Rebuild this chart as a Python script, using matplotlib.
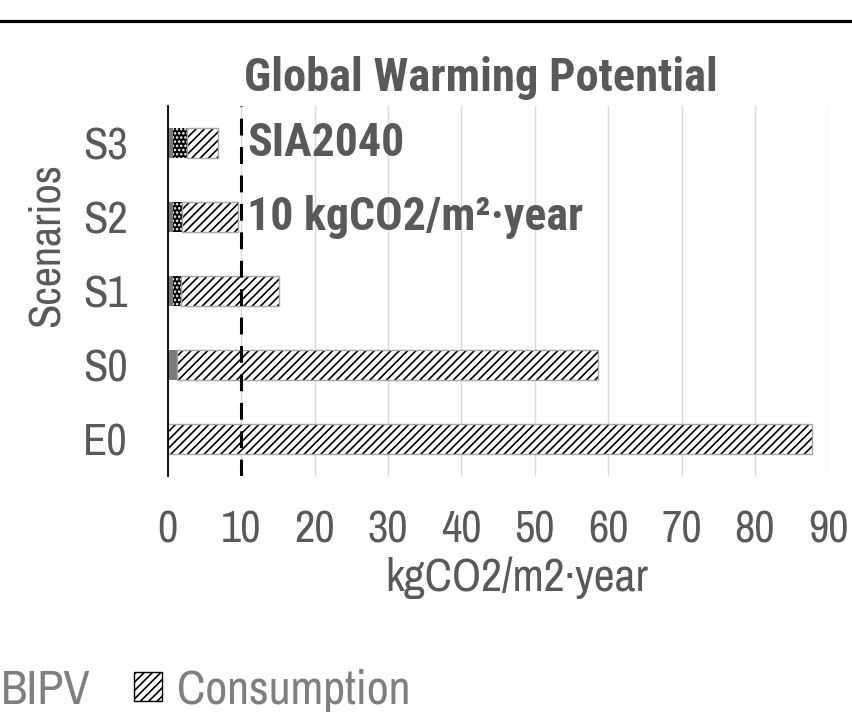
import matplotlib
matplotlib.use("Agg")
import matplotlib.pyplot as plt
from matplotlib.patches import Patch
from matplotlib.lines import Line2D
import numpy as np

plt.rcParams['font.family'] = ['Archivo Narrow', 'Roboto Condensed', 'Liberation Sans', 'DejaVu Sans']
plt.rcParams['hatch.linewidth'] = 1.2
bold_fam = ['Roboto Condensed', 'Asap Condensed', 'Liberation Sans', 'DejaVu Sans']

scenarios = ['E0', 'S0', 'S1', 'S2', 'S3']
materials = [0.0, 1.2, 0.75, 0.75, 0.75]
bipv = [0.0, 0.0, 1.0, 1.15, 1.9]
consumption = [87.8, 57.4, 13.4, 7.7, 4.2]
limit = 10

txt = '#595959'
W, H = 852, 721
fig = plt.figure(figsize=(W / 100, H / 100), dpi=100)
ax = fig.add_axes([167.7 / W, 1 - 476 / H, (828.3 - 167.7) / W, (476 - 106) / H])

y = np.arange(len(scenarios))
h = 0.4
mat = np.array(materials)
bi = np.array(bipv)
con = np.array(consumption)

ax.barh(y, mat, h, color='#7a7a7a', edgecolor='#7a7a7a', linewidth=0, zorder=3)
ax.barh(y, bi, h, left=mat, color='black', edgecolor='white', hatch='....', linewidth=0, zorder=3)
ax.barh(y, con, h, left=mat + bi, color='white', edgecolor='black', hatch='////', linewidth=0, zorder=3)
ax.barh(y, con, h, left=mat + bi, fill=False, edgecolor='#a6a6a6', linewidth=1, zorder=3)

ax.axvline(limit, color='black', lw=2.2, dashes=(5.5, 3.8), zorder=4)

ax.set_xlim(0, 90)
ax.set_ylim(-0.5, 4.5)
ax.set_xticks(np.arange(0, 91, 10))
ax.set_yticks(y)
ax.set_yticklabels(scenarios)
ax.grid(axis='x', color='#d9d9d9', lw=1, zorder=0)
ax.tick_params(axis='x', length=0, pad=25, labelsize=32, labelcolor=txt)
ax.tick_params(axis='y', length=0, pad=29, labelsize=32, labelcolor=txt)
for s in ['top', 'right', 'bottom']:
    ax.spines[s].set_visible(False)
ax.spines['left'].set_linewidth(1.3)
ax.spines['left'].set_zorder(5)

fig.text(481 / W, 1 - 78 / H, 'Global Warming Potential', ha='center', va='center',
         fontsize=33.5, fontweight='bold', color=txt, family=bold_fam)
fig.text(247 / W, 1 - 143 / H, 'SIA2040', ha='left', va='center',
         fontsize=33, fontweight='bold', color=txt, family=bold_fam)
fig.text(247 / W, 1 - 217 / H, '10 kgCO2/m²·year', ha='left', va='center',
         fontsize=33, fontweight='bold', color=txt, family=bold_fam)
fig.text(517 / W, 1 - 578 / H, 'kgCO2/m2·year', ha='center', va='center',
         fontsize=33, color=txt)
fig.text(46.5 / W, 1 - 245 / H, 'Scenarios', ha='center', va='center',
         rotation=90, fontsize=32, color=txt)

fig.add_artist(Line2D([0, 1], [1 - 20.5 / H] * 2, transform=fig.transFigure,
                      color='black', lw=2.3))

handles = [Patch(facecolor='black', edgecolor='white', hatch='....', label='BIPV'),
           Patch(facecolor='white', edgecolor='black', hatch='////', label='Consumption')]
leg = fig.legend(handles=handles, loc='center right', bbox_to_anchor=(410 / W, 1 - 690 / H),
                 ncol=2, frameon=False, fontsize=34.5, labelcolor='#7f7f7f',
                 handlelength=0.58, handleheight=0.58, handletextpad=0.31,
                 columnspacing=0.9, borderpad=0, borderaxespad=0)

fig.savefig('out.png', dpi=100)
